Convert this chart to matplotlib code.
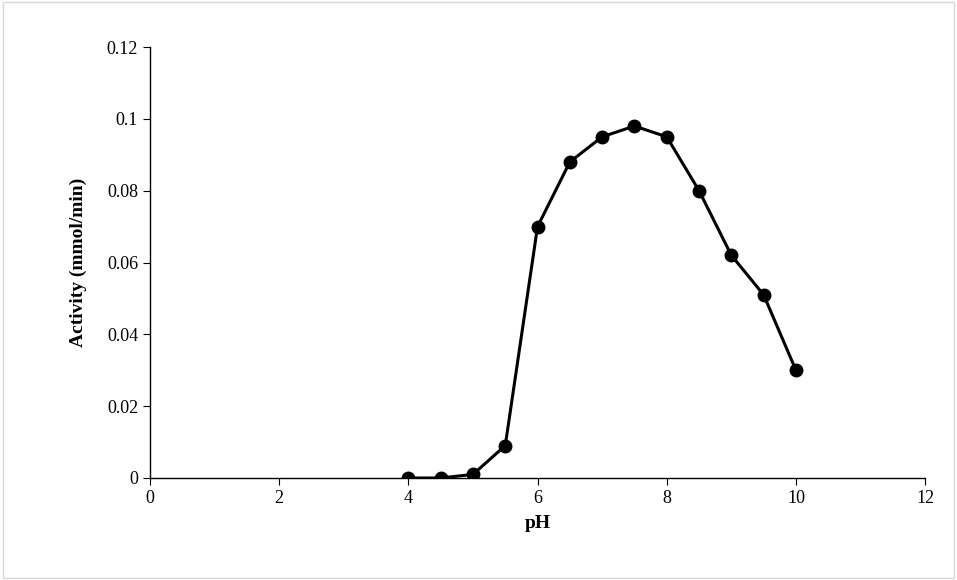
import matplotlib
matplotlib.use("Agg")
import matplotlib.pyplot as plt
from matplotlib.patches import Rectangle

ph = [4, 4.5, 5, 5.5, 6, 6.5, 7, 7.5, 8, 8.5, 9, 9.5, 10]
activity = [0, 0, 0.001, 0.009, 0.070, 0.088, 0.095, 0.098, 0.095, 0.080, 0.062, 0.051, 0.030]
xticks = [0, 2, 4, 6, 8, 10, 12]
yticks = [0, 0.02, 0.04, 0.06, 0.08, 0.1, 0.12]
ylabels = ["0", "0.02", "0.04", "0.06", "0.08", "0.1", "0.12"]

plt.rcParams['font.family'] = ['Liberation Serif', 'DejaVu Serif']
fig = plt.figure(figsize=(9.57, 5.8), dpi=100)
fig.patches.append(Rectangle((0.003, 0.003), 0.994, 0.994, transform=fig.transFigure,
                             fill=False, edgecolor='#d9d9d9', linewidth=1))
ax = fig.add_axes([0.1567, 0.1759, 0.81, 0.743])
ax.plot(ph, activity, color='black', linewidth=2.2, marker='o', markersize=9)
ax.set_xlim(0, 12)
ax.set_ylim(0, 0.12)
ax.set_xticks(xticks)
ax.set_yticks(yticks)
ax.set_yticklabels(ylabels)
for s in ['top', 'right']:
    ax.spines[s].set_visible(False)
for s in ['left', 'bottom']:
    ax.spines[s].set_linewidth(1)
ax.tick_params(labelsize=13, length=5, direction='out')
ax.set_xlabel('pH', fontsize=14, fontweight='bold', labelpad=6)
ax.set_ylabel('Activity (mmol/min)', fontsize=14, fontweight='bold', labelpad=14)
fig.savefig('out.png', dpi=100)
